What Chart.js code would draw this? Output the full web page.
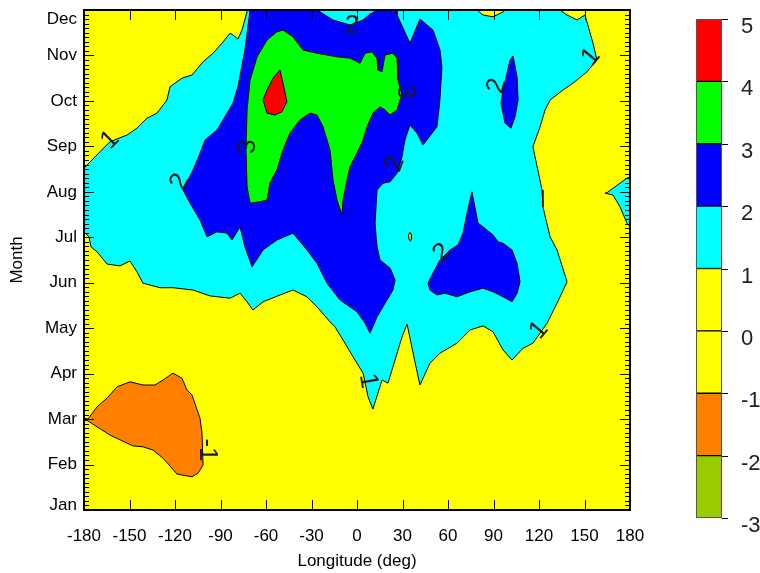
<!DOCTYPE html>
<html><head><meta charset="utf-8">
<script src="https://cdn.jsdelivr.net/npm/chart.js@4"></script>
<style>
html,body{margin:0;padding:0;background:#fff;}
#wrap{position:relative;width:760px;height:573px;}
canvas{position:absolute;top:0;}
</style>
</head><body>
<div id="wrap">
<canvas id="main" width="760" height="573" style="left:0"></canvas>
<canvas id="cbar" width="70" height="573" style="left:690px"></canvas>
</div>
<script>
// ---------- data ----------
const months = ['Jan','Feb','Mar','Apr','May','Jun','Jul','Aug','Sep','Oct','Nov','Dec'];
const lonTicks = [-180,-150,-120,-90,-60,-30,0,30,60,90,120,150,180];
const levels = [-3,-2,-1,0,1,2,3,4,5];
const bandColors = ['#99cc00','#ff8000','#ffff00','#ffff00','#00ffff','#0000ff','#00ff00','#ff0000'];

// contour region >= 1 (cyan)
const cyanLon = [-180,-169.5,-162.9,-151.6,-145.1,-138.5,-131.9,-125.3,-123.3,-115.4,-108.8,-101.5,-94.9,-89.0,-83.7,-81.8,-78.5,-75.8,-72.5,-72.5,79.1,83.1,89.7,96.3,97.6,133.8,138.5,145.1,150.3,155.6,158.2,151.6,142.4,135.8,127.3,124.0,120.7,116.0,122.0,122.6,127.3,131.9,138.5,131.9,125.3,116.0,109.5,102.2,96.3,89.7,83.1,74.5,65.9,54.7,48.1,41.5,38.2,33.0,29.7,23.7,20.4,16.5,10.5,7.3,4.0,-2.6,-9.2,-14.5,-17.8,-26.4,-33.0,-42.2,-50.8,-62.0,-68.6,-72.5,-77.1,-83.7,-96.9,-108.1,-121.3,-129.9,-141.1,-145.1,-149.7,-156.3,-164.8,-171.4,-175.4,-176.7,-179.3,-180];
const cyanMonth = [8.52,8.88,9.10,9.25,9.40,9.62,9.73,10.02,10.31,10.50,10.57,10.86,11.05,11.27,11.49,11.45,11.36,11.56,11.96,12,12,11.89,11.85,11.96,12,12,11.89,11.78,11.89,11.27,10.90,10.64,10.39,10.24,10.02,9.80,9.43,8.99,8.04,7.67,7.01,6.72,6.02,5.55,5.11,4.67,4.56,4.30,4.52,4.92,5.05,4.96,4.67,4.45,4.23,3.75,4.26,5.09,4.81,4.15,3.79,3.86,3.22,3.49,4.01,4.37,4.74,5.03,5.14,5.47,5.69,5.84,5.73,5.58,5.40,5.58,5.77,5.66,5.71,5.84,5.89,5.89,5.99,6.24,6.48,6.37,6.41,6.68,6.79,7.01,7.09,7.09];
const cyanEastLon = [180,178.0,173.4,164.8,163.5,168.8,173.4,178.0,180];
const cyanEastMonth = [8.33,8.30,8.19,7.98,7.97,7.93,7.67,7.31,7.23];
// small hole < 1 (yellow)
const holeLon = [34.9,35.8,35.9,35.2,34.3,34.0];
const holeMonth = [7.11,7.06,6.98,6.91,6.96,7.05];
// contour regions >= 2 (blue)
const blueALon = [-70.5,-26.4,-15.8,-4.6,4.0,8.6,13.8,26.4,26.4,34.9,41.5,50.1,54.7,56.0,54.7,52.7,43.5,39.6,34.9,31.6,29.7,26.4,21.8,17.1,13.2,11.9,13.2,15.2,21.8,25.1,23.7,17.1,13.2,8.6,5.3,0.0,-11.2,-19.8,-26.4,-33.0,-42.2,-52.8,-62.0,-69.2,-73.9,-77.1,-82.4,-85.7,-92.3,-98.9,-103.5,-110.1,-114.7,-108.1,-103.5,-100.2,-92.3,-85.7,-81.8,-78.5,-73.9];
const blueAMonth = [12,12,11.78,11.67,11.78,11.91,12,12,11.89,11.27,11.80,11.56,11.12,10.75,10.02,9.43,9.03,9.29,9.47,9.14,8.77,8.41,8.22,8.19,8.04,7.31,6.79,6.50,6.32,6.06,5.84,5.47,5.25,4.89,5.11,5.36,5.62,5.99,6.43,6.72,7.09,6.94,6.72,6.35,6.79,7.23,6.94,7.09,7.12,7.01,7.38,7.75,8.04,8.48,8.85,9.14,9.36,9.73,9.95,10.31,11.12];
const blueBLon = [75.8,79.8,83.1,89.7,93.0,96.3,102.2,105.5,107.5,105.5,102.2,96.3,89.7,83.1,74.5,65.9,58.0,52.7,48.1,46.8,49.5,54.7,61.3,66.6,69.9,72.5];
const blueBMonth = [8.00,7.31,7.23,7.05,6.90,6.87,6.72,6.43,6.02,5.77,5.58,5.69,5.80,5.88,5.80,5.69,5.77,5.73,5.84,5.99,6.17,6.50,6.72,6.83,7.09,7.53];
const blueCLon = [102.9,105.5,106.2,104.2,101.5,97.6,94.9,96.3,98.9,100.9];
const blueCMonth = [10.99,10.53,10.02,9.65,9.40,9.51,9.95,10.24,10.61,10.90];
// contour region >= 3 (green)
const greenLon = [-48.8,-42.2,-35.6,-26.4,-13.2,-4.6,2.0,5.3,9.9,13.2,13.8,16.5,18.5,23.7,26.4,27.0,29.7,28.4,26.4,21.8,18.5,15.2,10.5,6.6,4.0,0.0,-4.6,-6.6,-9.2,-9.9,-13.2,-15.8,-17.8,-22.4,-26.4,-31.0,-37.6,-44.2,-48.8,-52.8,-57.4,-59.3,-64.0,-70.5,-72.5,-73.2,-72.5,-70.5,-65.9,-59.3,-52.8];
const greenMonth = [11.56,11.41,11.12,11.05,10.97,10.94,10.83,11.05,11.08,10.94,10.68,10.64,11.01,11.05,10.94,10.46,10.13,10.02,9.80,9.69,9.80,9.87,9.73,9.43,9.14,8.85,8.55,8.26,7.82,7.49,7.82,8.26,8.92,9.43,9.69,9.73,9.58,9.29,8.92,8.48,8.19,7.82,7.78,7.75,8.11,8.92,9.80,10.46,10.97,11.34,11.52];
// contour region >= 4 (red)
const redLon = [-50.8,-48.8,-46.2,-49.5,-54.1,-59.3,-62.0,-59.3,-55.4];
const redMonth = [10.68,10.39,9.98,9.76,9.69,9.73,10.02,10.24,10.50];
// contour region <= -1 (orange)
const orangeLon = [-180,-177.4,-171.4,-164.8,-158.2,-149.7,-141.1,-133.2,-127.9,-121.3,-115.4,-112.1,-108.8,-103.5,-102.2,-101.5,-104.8,-108.8,-118.7,-122.0,-127.9,-134.5,-141.1,-147.7,-151.6,-162.9,-171.4,-177.4,-180];
const orangeMonth = [3.02,3.00,3.27,3.46,3.71,3.82,3.75,3.75,3.86,4.01,3.90,3.64,3.53,3.02,2.69,1.99,1.81,1.73,1.79,1.92,2.14,2.32,2.39,2.41,2.47,2.65,2.83,2.96,2.98];

// contour labels
const labelText  = ['1','2','3','2','3','2','2','2','1','1','1','-1'];
const labelLon   = [-162.9,-116.7,-71.9,-3.3,31.6,25.1,92.3,56.0,154.3,120.0,7.3,-98.9];
const labelMonth = [9.14,8.22,8.99,11.66,10.20,8.61,10.33,6.65,10.97,4.96,3.84,2.32];

// ---------- styling ----------
const FONT = '"Liberation Sans", Arial, Helvetica, sans-serif';
Chart.defaults.font.family = FONT;
Chart.defaults.color = '#000';
const labelAngle = [-45,-63,-90,0,90,-70,-75,-40,-50,-50,80,90];

const layers = [
  {lon: cyanLon, month: cyanMonth, color: '#00ffff'},
  {lon: cyanEastLon, month: cyanEastMonth, color: '#00ffff'},
  {lon: holeLon, month: holeMonth, color: '#ffff00'},
  {lon: blueALon, month: blueAMonth, color: '#0000ff'},
  {lon: blueBLon, month: blueBMonth, color: '#0000ff'},
  {lon: blueCLon, month: blueCMonth, color: '#0000ff'},
  {lon: greenLon, month: greenMonth, color: '#00ff00'},
  {lon: redLon, month: redMonth, color: '#ff0000'},
  {lon: orangeLon, month: orangeMonth, color: '#ff8000'}
];
function poly(lon, month) {
  const pts = lon.map((v, i) => ({x: v, y: month[i]}));
  pts.push({x: lon[0], y: month[0]});
  return pts;
}
const datasets = layers.map((L, i) => ({
  data: poly(L.lon, L.month),
  showLine: true,
  fill: 'shape',
  backgroundColor: L.color,
  borderColor: '#000',
  borderWidth: 1,
  pointRadius: 0,
  pointHoverRadius: 0,
  tension: 0,
  order: layers.length - i
}));

const deco = {
  id: 'deco',
  beforeDatasetsDraw(chart) {
    const {ctx, chartArea: a} = chart;
    ctx.save();
    ctx.fillStyle = '#ffff00';
    ctx.fillRect(a.left, a.top, a.width, a.height);
    ctx.restore();
  },
  afterDatasetsDraw(chart) {
    const {ctx, chartArea: a, scales: {x, y}} = chart;
    ctx.save();
    ctx.beginPath(); ctx.rect(a.left, a.top, a.width, a.height); ctx.clip();
    ctx.fillStyle = '#1a1a1a';
    ctx.font = '26px ' + FONT;
    ctx.textAlign = 'center'; ctx.textBaseline = 'middle';
    labelText.forEach((t, i) => {
      ctx.save();
      ctx.translate(x.getPixelForValue(labelLon[i]), y.getPixelForValue(labelMonth[i]));
      ctx.rotate(labelAngle[i] * Math.PI / 180);
      ctx.fillText(t, 0, 0);
      ctx.restore();
    });
    ctx.restore();
  },
  afterDraw(chart) {
    const {ctx, chartArea: a, scales: {x, y}} = chart;
    ctx.save();
    ctx.strokeStyle = '#000';
    ctx.lineWidth = 1;
    ctx.beginPath();
    lonTicks.forEach(v => {
      const px = Math.round(x.getPixelForValue(v)) + 0.5;
      ctx.moveTo(px, a.bottom); ctx.lineTo(px, a.bottom - 10);
      ctx.moveTo(px, a.top); ctx.lineTo(px, a.top + 10);
    });
    for (let i = 0; i <= 110; i++) {
      const py = Math.round(y.getPixelForValue(1 + i / 10)) + 0.5;
      const len = (i % 10 === 0) ? 10 : 5;
      ctx.moveTo(a.left, py); ctx.lineTo(a.left + len, py);
      ctx.moveTo(a.right, py); ctx.lineTo(a.right - len, py);
    }
    ctx.stroke();
    ctx.lineWidth = 2;
    ctx.strokeRect(a.left, a.top, a.width, a.height);
    // month labels
    ctx.fillStyle = '#000';
    ctx.font = '17px ' + FONT;
    ctx.textAlign = 'right'; ctx.textBaseline = 'middle';
    months.forEach((m, i) => {
      let py = y.getPixelForValue(i + 1);
      py = Math.min(Math.max(py, a.top + 9), a.bottom - 5);
      ctx.fillText(m, a.left - 7, py);
    });
    ctx.restore();
  }
};

new Chart(document.getElementById('main'), {
  type: 'scatter',
  data: {datasets},
  options: {
    responsive: false,
    animation: false,
    events: [],
    layout: {padding: {left: 0, top: 10, right: 130, bottom: 0}},
    plugins: {legend: {display: false}, tooltip: {enabled: false}},
    scales: {
      x: {
        type: 'linear', min: -180, max: 180,
        ticks: {stepSize: 30, font: {size: 17}, color: '#000', padding: 8, maxRotation: 0, autoSkip: false,
                callback: v => lonTicks.includes(v) ? String(v) : ''},
        grid: {display: false},
        border: {display: false},
        title: {display: true, text: 'Longitude (deg)', font: {size: 17}, color: '#000', padding: {top: 1, bottom: 1}},
        afterFit: s => { s.height = 63; }
      },
      y: {
        type: 'linear', min: 1, max: 12,
        ticks: {display: false},
        grid: {display: false},
        border: {display: false},
        title: {display: true, text: 'Month', font: {size: 17}, color: '#000', padding: {top: 7, bottom: 7}},
        afterFit: s => { s.width = 84; }
      }
    }
  },
  plugins: [deco]
});

// ---------- colour bar ----------
const cbarDatasets = bandColors.map((c, i) => ({
  data: [[levels[i], levels[i + 1]]],
  backgroundColor: c,
  borderColor: '#000',
  borderWidth: 1,
  borderSkipped: false,
  barPercentage: 1,
  categoryPercentage: 1
}));
const cbarFrame = {
  id: 'cbarFrame',
  afterDraw(chart) {
    const {ctx, chartArea: a, scales: {y}} = chart;
    ctx.save();
    ctx.strokeStyle = '#555'; ctx.lineWidth = 1;
    ctx.strokeRect(a.left + 0.5, a.top + 0.5, a.width - 1, a.height - 1);
    ctx.strokeStyle = '#000';
    ctx.beginPath();
    ctx.fillStyle = '#222';
    ctx.font = '22px ' + FONT;
    ctx.textAlign = 'left'; ctx.textBaseline = 'middle';
    levels.forEach(v => {
      const py = Math.round(y.getPixelForValue(v)) + 0.5;
      ctx.moveTo(a.right, py); ctx.lineTo(a.right + 6, py);
      ctx.fillText(String(v), a.right + 19, py + 7);
    });
    ctx.stroke();
    ctx.restore();
  }
};
new Chart(document.getElementById('cbar'), {
  type: 'bar',
  data: {labels: [''], datasets: cbarDatasets},
  options: {
    responsive: false,
    animation: false,
    events: [],
    layout: {padding: {left: 6, top: 19, right: 0, bottom: 55}},
    plugins: {legend: {display: false}, tooltip: {enabled: false}},
    scales: {
      x: {display: false, stacked: true},
      y: {
        position: 'right', stacked: false, min: -3, max: 5,
        ticks: {display: false, stepSize: 1},
        grid: {display: false},
        border: {display: false},
        afterFit: s => { s.width = 38; }
      }
    }
  },
  plugins: [cbarFrame]
});
</script>
</body></html>
